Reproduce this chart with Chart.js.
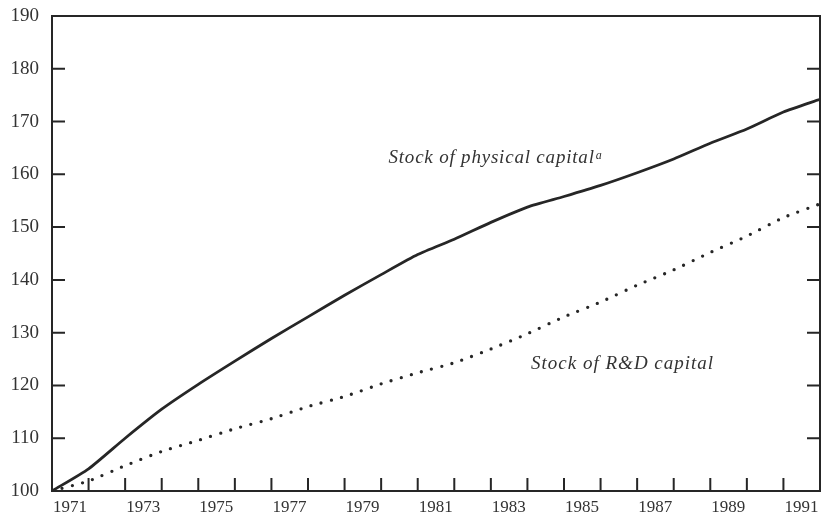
<!DOCTYPE html>
<html>
<head>
<meta charset="utf-8">
<script src="https://cdn.jsdelivr.net/npm/chart.js"></script>
<style>
  html, body { margin: 0; padding: 0; background: #fff; }
  canvas { display: block; }
</style>
</head>
<body>
<canvas id="chart" width="822" height="512"></canvas>
<script>
// annual index, 1971 = 100
const years = [1971, 1972, 1973, 1974, 1975, 1976, 1977, 1978, 1979, 1980, 1981,
               1982, 1983, 1984, 1985, 1986, 1987, 1988, 1989, 1990, 1991, 1992];
const physicalCapital = [100, 104.2, 110, 115.5, 120.2, 124.6, 128.9, 133.0, 137.1, 141.0, 144.8,
                         147.7, 150.9, 153.8, 155.8, 157.9, 160.3, 162.9, 165.9, 168.6, 171.8, 174.2];
const rdCapital = [100, 101.9, 104.8, 107.5, 109.6, 111.8, 113.7, 116.0, 117.9, 120.3, 122.4,
                   124.3, 126.9, 129.8, 133.0, 135.8, 139.0, 141.9, 145.2, 148.3, 151.8, 154.4];
const yTicks = [100, 110, 120, 130, 140, 150, 160, 170, 180, 190];
const xLabelYears = [1971, 1973, 1975, 1977, 1979, 1981, 1983, 1985, 1987, 1989, 1991];

// text labels anchored in data space: [year, value]
const physicalLabelAt = [1980.2, 162.1];
const rdLabelAt = [1984.1, 123.2];

const ink = '#262626';
const serif = '"Liberation Serif", "DejaVu Serif", serif';

const toPoints = vals => vals.map((v, i) => ({ x: years[i], y: v }));

// no extra room for half-labels at the ends of the axes
const noEndPadding = axis => {
  axis.paddingTop = 0; axis.paddingBottom = 0;
  axis.paddingLeft = 0; axis.paddingRight = 0;
};

const frame = {
  id: 'frame',
  afterDatasetsDraw(chart) {
    const { ctx, chartArea: a, scales: { x, y } } = chart;
    ctx.save();
    ctx.strokeStyle = ink;
    ctx.lineWidth = 2;
    ctx.strokeRect(a.left, a.top, a.right - a.left, a.bottom - a.top);

    // inward tick marks
    ctx.beginPath();
    y.ticks.forEach(t => {
      const py = y.getPixelForValue(t.value);
      ctx.moveTo(a.left, py); ctx.lineTo(a.left + 13, py);
      ctx.moveTo(a.right, py); ctx.lineTo(a.right - 13, py);
    });
    x.ticks.forEach(t => {
      const px = x.getPixelForValue(t.value);
      ctx.moveTo(px, a.bottom); ctx.lineTo(px, a.bottom - 13);
    });
    ctx.stroke();

    // series labels
    ctx.fillStyle = '#333';
    ctx.textBaseline = 'alphabetic';
    ctx.letterSpacing = '0.8px';
    ctx.font = 'italic 19px ' + serif;
    let px = x.getPixelForValue(physicalLabelAt[0]);
    let py = y.getPixelForValue(physicalLabelAt[1]);
    const main = 'Stock of physical capital';
    ctx.fillText(main, px, py);
    const w = ctx.measureText(main).width;
    ctx.font = 'italic 12px ' + serif;
    ctx.fillText('a', px + w + 1, py - 4);

    ctx.font = 'italic 19px ' + serif;
    ctx.letterSpacing = '1px';
    px = x.getPixelForValue(rdLabelAt[0]);
    py = y.getPixelForValue(rdLabelAt[1]);
    ctx.fillText('Stock of R&D capital', px, py);
    ctx.restore();
  }
};

new Chart(document.getElementById('chart'), {
  type: 'line',
  data: {
    datasets: [
      {
        label: 'Stock of physical capital',
        data: toPoints(physicalCapital),
        borderColor: ink,
        borderWidth: 2.8,
        pointRadius: 0,
        tension: 0.2
      },
      {
        label: 'Stock of R&D capital',
        data: toPoints(rdCapital),
        borderColor: ink,
        borderWidth: 3.3,
        borderDash: [0, 10.5],
        borderCapStyle: 'round',
        pointRadius: 0,
        tension: 0.2
      }
    ]
  },
  options: {
    responsive: false,
    animation: false,
    devicePixelRatio: 1,
    layout: { padding: { top: 16, right: 2, left: 0, bottom: 0 } },
    plugins: { legend: { display: false }, tooltip: { enabled: false } },
    scales: {
      x: {
        type: 'linear',
        min: years[0],
        max: years[years.length - 1],
        afterBuildTicks: axis => { axis.ticks = years.map(v => ({ value: v })); },
        afterFit: axis => { axis.height = 21; noEndPadding(axis); },
        grid: { display: false, drawTicks: false },
        border: { display: false },
        ticks: {
          autoSkip: false,
          maxRotation: 0,
          padding: 6,
          labelOffset: 18,
          color: '#333',
          font: { family: serif, size: 17 },
          callback: v => xLabelYears.includes(v) ? String(v) : ''
        }
      },
      y: {
        min: yTicks[0],
        max: yTicks[yTicks.length - 1],
        afterBuildTicks: axis => { axis.ticks = yTicks.map(v => ({ value: v })); },
        afterFit: axis => { axis.width = 52; noEndPadding(axis); },
        grid: { display: false, drawTicks: false },
        border: { display: false },
        ticks: {
          padding: 13,
          color: '#333',
          font: { family: serif, size: 19 },
          callback: v => String(v)
        }
      }
    }
  },
  plugins: [frame]
});
</script>
</body>
</html>
